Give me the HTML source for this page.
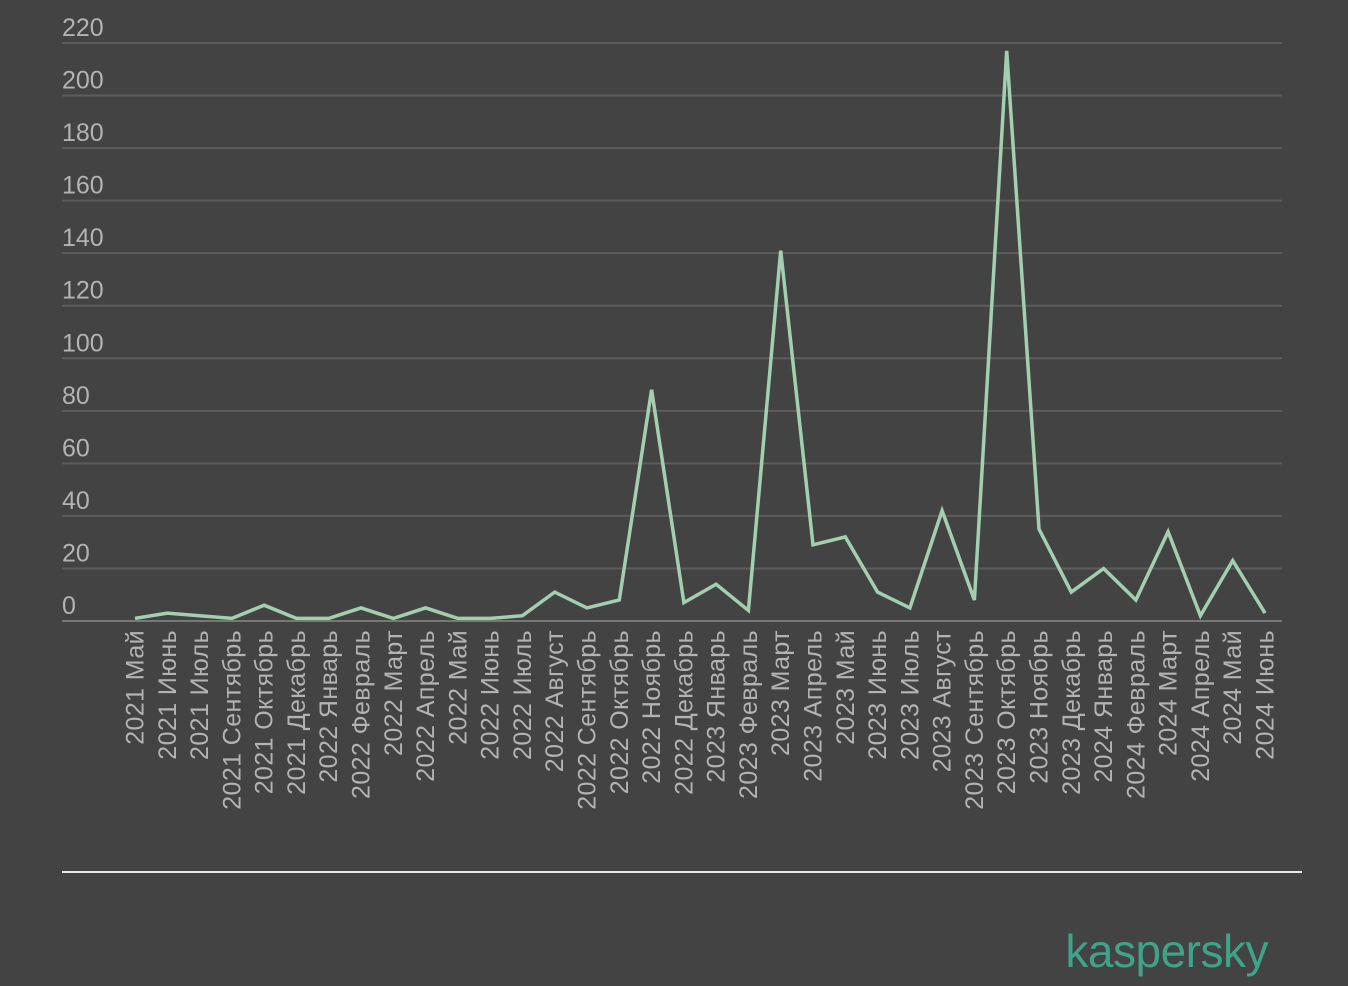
<!DOCTYPE html>
<html><head><meta charset="utf-8"><style>
html,body{margin:0;padding:0;background:#434343;}
svg{display:block;}
text{font-family:"Liberation Sans",sans-serif;}
</style></head><body>
<svg width="1348" height="986" viewBox="0 0 1348 986" xmlns="http://www.w3.org/2000/svg">
<rect width="1348" height="986" fill="#434343"/>
<g id="grid" stroke="#5c5c5c" stroke-width="2"></g>
<g id="yl" fill="#b3b3b3" font-size="25"></g>
<g id="xl" fill="#b3b3b3" font-size="25"></g>
<polyline id="ln" fill="none" stroke="#a3cfb1" stroke-width="3.5" stroke-linejoin="miter"/>
<line x1="62" y1="872" x2="1302" y2="872" stroke="#e8e8e8" stroke-width="2"/>
<text x="1268" y="967" text-anchor="end" font-size="46" fill="#3fa38a" style="letter-spacing:-0.5px">kaspersky</text>
</svg>
<script>
var ns="http://www.w3.org/2000/svg";
function el(t,a,p,txt){var e=document.createElementNS(ns,t);for(var k in a)e.setAttribute(k,a[k]);if(txt!=null)e.textContent=txt;document.getElementById(p).appendChild(e);return e;}
var y0=621,step=(621-43)/220;
for(var v=0;v<=220;v+=20){var y=y0-v*step;el('line',{x1:62,x2:1282,y1:y,y2:y,stroke:v==0?'#777':'#5c5c5c'},'grid');el('text',{x:62,y:y-7},'yl',String(v));}
var labels=["2021 Май","2021 Июнь","2021 Июль","2021 Сентябрь","2021 Октябрь","2021 Декабрь","2022 Январь","2022 Февраль","2022 Март","2022 Апрель","2022 Май","2022 Июнь","2022 Июль","2022 Август","2022 Сентябрь","2022 Октябрь","2022 Ноябрь","2022 Декабрь","2023 Январь","2023 Февраль","2023 Март","2023 Апрель","2023 Май","2023 Июнь","2023 Июль","2023 Август","2023 Сентябрь","2023 Октябрь","2023 Ноябрь","2023 Декабрь","2024 Январь","2024 Февраль","2024 Март","2024 Апрель","2024 Май","2024 Июнь"];
var vals=[1,3,2,1,6,1,1,5,1,5,1,1,2,11,5,8,88,7,14,4,141,29,32,11,5,42,8,217,35,11,20,8,34,2,23,3];
var pts=[];
for(var i=0;i<36;i++){var x=135+i*(1130/35);pts.push(x.toFixed(1)+","+(y0-vals[i]*step).toFixed(1));
el('text',{x:0,y:0,transform:"translate("+(x+8.5)+",630) rotate(-90)","text-anchor":"end",style:"letter-spacing:0.4px"},'xl',labels[i]);}
document.getElementById('ln').setAttribute('points',pts.join(' '));
</script>
</body></html>
